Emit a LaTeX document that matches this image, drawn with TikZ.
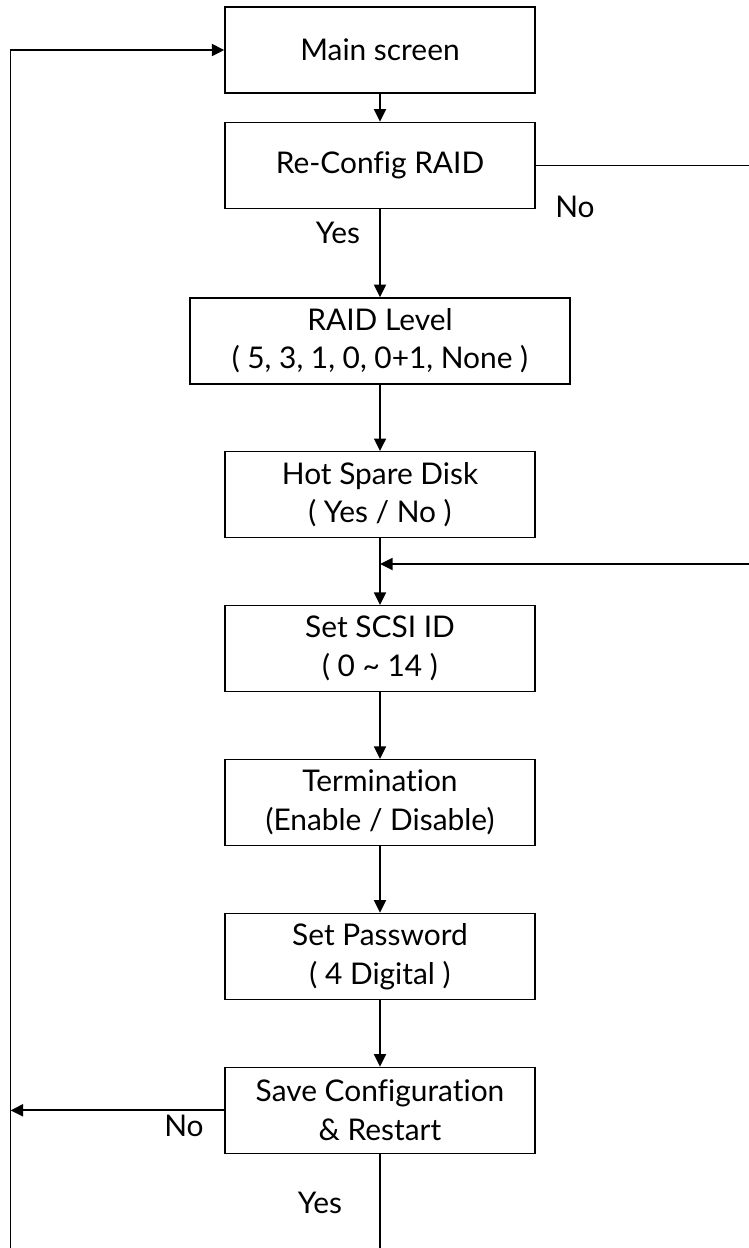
\documentclass[tikz,border=0pt]{standalone}
\usepackage{fontspec}
\setmainfont{Lato}[Ligatures=NoCommon]
\usetikzlibrary{positioning,arrows.meta}
\tikzset{
  prog/.style={rectangle, draw=black, line width=0.8pt, minimum width=6.2cm, minimum height=1.72cm, text centered, align=center, inner sep=2pt, font=\fontsize{17}{22}\selectfont},
  progw/.style={prog, minimum width=7.6cm},
  line/.style={draw, line width=1pt, -{Triangle[length=0.25cm,width=0.24cm]}},
  plain/.style={draw, line width=0.6pt},
  lbl/.style={inner sep=0pt, font=\fontsize{17}{22}\selectfont},
}
\begin{document}
\begin{tikzpicture}[node distance=1.33cm]
    \useasboundingbox (0,0) rectangle (14.98,-24.96);

    \node[prog] (main) at (7.6,-1.0) {Main screen};
    \node[prog, below=0.56cm of main] (reconf) {Re-Config RAID};
    \node[progw, below=1.76cm of reconf] (level) {RAID Level\\( 5, 3, 1, 0, 0+1, None )};
    \node[prog, below=of level] (spare) {Hot Spare Disk\\( Yes / No )};
    \node[prog, below=of spare] (scsi) {Set SCSI ID\\( 0 \textasciitilde{} 14 )};
    \node[prog, below=of scsi] (term) {Termination\\(Enable / Disable)};
    \node[prog, below=of term] (pass) {Set Password\\( 4 Digital )};
    \node[prog, below=of pass] (save) {Save Configuration\\\& Restart};

    \coordinate (redge) at (14.98,-11.28);
    \coordinate (ledge) at (0.21,-24.96);

    \node[lbl] (no1) at (11.5,-4.14) {No};
    \node[lbl] (yes1) at (6.76,-4.66) {Yes};
    \node[lbl] (no2) at (3.68,-22.52) {No};
    \node[lbl] (yes2) at (6.4,-24.06) {Yes};

    \begin{scope}[every path/.style=line]
      \path (main) -- (reconf);
      \path (reconf) -- (level);
      \path (level) -- (spare);
      \path (spare) -- (scsi);
      \path (scsi) -- (term);
      \path (term) -- (pass);
      \path (pass) -- (save);
      \path (redge) -- (redge -| spare.south);
      \path (save.west) -- (save.west -| ledge);
      \path (ledge) |- (main.west);
    \end{scope}

    \draw[plain] (reconf.east) -- (reconf.east -| redge);
    \draw[plain] (save.south) -- (save.south |- ledge);

\end{tikzpicture}
\end{document}
